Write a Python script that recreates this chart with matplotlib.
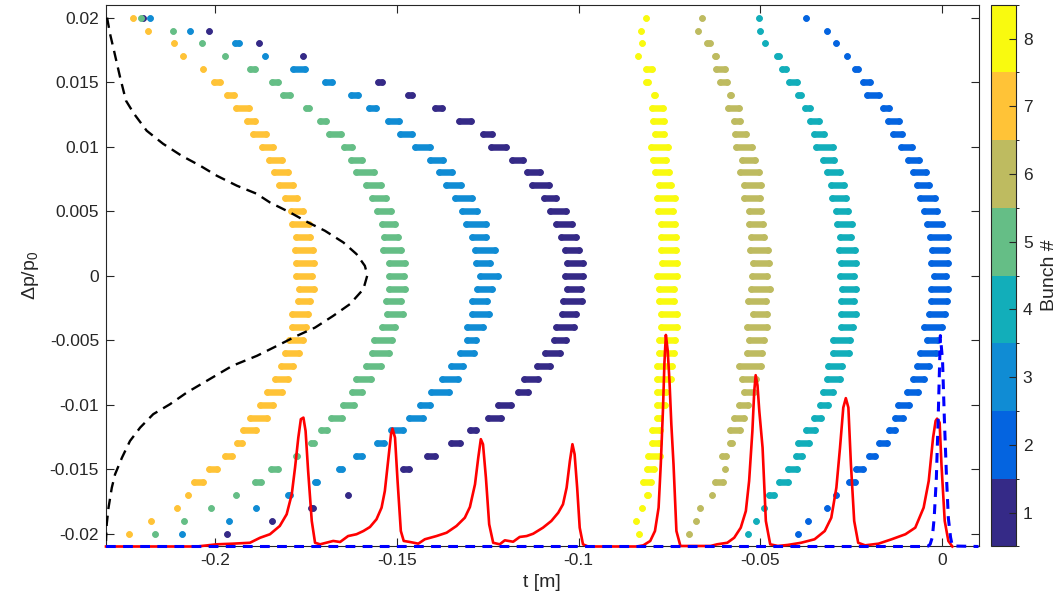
import numpy as np
import matplotlib
matplotlib.use("Agg")
import matplotlib.pyplot as plt
import matplotlib as mpl
from matplotlib.colors import ListedColormap, BoundaryNorm

plt.rcParams['font.family'] = ['Liberation Sans', 'DejaVu Sans']
plt.rcParams['mathtext.fontset'] = 'custom'
plt.rcParams['mathtext.rm'] = 'Liberation Sans'
plt.rcParams['mathtext.it'] = 'Liberation Sans:italic'

# ---------------- data ----------------
# momentum rows (dp/p0), top to bottom
dp_levels = [0.020, 0.019, 0.018, 0.017, 0.016, 0.015, 0.014, 0.013, 0.012, 0.011,
             0.010, 0.009, 0.008, 0.007, 0.006, 0.005, 0.004, 0.003, 0.002, 0.001,
             0.000,
             -0.001, -0.002, -0.003, -0.004, -0.005, -0.006, -0.007, -0.008, -0.009, -0.010,
             -0.011, -0.012, -0.013, -0.014, -0.015, -0.016, -0.017, -0.018, -0.019, -0.020]

bunch_ids = [1, 2, 3, 4, 5, 6, 7, 8]
bunch_colors = ['#352A87', '#0464E0', '#108CD4', '#12AEBA',
                '#65BE86', '#BEBB60', '#FFC337', '#F9FA0F']

# particle extent per row, t in mm (start, end); None end = single particle
b1_lo = [-219.7, -201.8, -188.0, -175.9, None, -156.0, -147.8, -140.4, -133.8, -127.2,
         -124.9, -119.3, -115.2, -113.7, -110.3, -108.8, -107.2, -105.8, -104.7, -104.0,
         -104.7,
         -104.1, -105.2, -105.5, -107.2, -107.8, -110.2, -112.4, -116.0, -117.7, -123.0,
         -125.8, -130.8, -136.0, -142.5, -149.3, None, -163.4, -174.4, -184.3, -196.7]
b1_hi = [None, None, None, None, None, -153.1, -144.8, -136.8, -128.8, -123.0,
         -119.1, -114.3, -109.8, -107.3, -105.2, -102.6, -101.0, -99.7, -98.9, -97.8,
         -97.8,
         -98.5, -98.1, -99.9, -100.4, -102.7, -104.2, -107.0, -110.2, -113.0, -117.7,
         -120.5, -127.2, -131.8, -138.6, -145.8, None, None, -172.1, None, None]

b2_lo = [-37.5, -31.6, -29.3, -27.0, -24.9, -22.6, -21.6, -17.1, -15.8, -14.3,
         -12.2, -10.4, -8.8, -7.7, -7.1, -6.0, -5.0, -4.3, -3.7, -4.0,
         -3.2,
         -4.0, -4.0, -4.6, -6.0, -5.0, -7.1, -7.8, -8.8, -10.6, -13.1,
         -14.0, -15.4, -18.2, -20.9, -24.7, -26.5, -29.1, -31.6, -36.9, -39.7]
b2_hi = [None, None, None, -25.3, -22.2, -18.9, -16.6, -13.7, -10.9, -10.1,
         -7.4, -5.6, -3.6, -2.6, -1.0, -0.4, 0.9, 2.6, 2.1, 2.4,
         2.0,
         2.4, 2.2, 1.7, 0.9, -0.2, -0.9, -2.6, -4.2, -5.7, -8.1,
         -9.9, -12.0, -14.3, -17.7, -20.8, -23.1, None, None, None, None]

b3_lo = [-217.9, -206.8, -195.3, -186.3, -179.4, -170.7, -163.4, -158.6, -153.3, -150.1,
         -145.9, -141.7, -139.3, -137.3, -134.9, -132.9, -131.8, -130.1, -129.4, -129.2,
         -128.1,
         -128.8, -130.1, -130.1, -131.5, -131.6, -133.6, -136.0, -138.4, -141.4, -144.6,
         -147.5, -152.6, -156.3, -162.0, -166.9, -173.3, -180.8, -188.8, -196.3, -209.2]
b3_hi = [None, None, -192.5, None, -174.4, -167.0, -159.9, -154.7, -148.5, -144.8,
         -140.0, -136.3, -133.8, -131.5, -128.5, -127.0, -124.6, -124.6, -122.1, -123.5,
         -121.2,
         -122.9, -124.2, -123.7, -125.3, -127.2, -128.0, -130.8, -132.2, -134.7, -140.0,
         -141.8, -147.5, -152.6, -158.6, -164.1, -171.1, -178.5, None, None, None]

b4_lo = [-50.4, -50.0, -48.6, -46.4, -45.0, -42.9, -40.6, -38.5, -37.2, -36.1,
         -35.7, -33.6, -32.5, -31.5, -31.2, -30.1, -29.8, -29.1, -29.4, -28.7,
         -29.1,
         -28.5, -28.8, -28.8, -28.8, -31.0, -30.8, -32.2, -32.7, -33.7, -34.4,
         -36.2, -38.3, -40.6, -41.1, -43.4, -45.7, -48.4, -49.1, -51.1, -53.3]
b4_hi = [None, None, None, -44.0, -42.0, -38.9, -37.8, -35.4, -33.1, -31.5,
         -29.1, -28.8, -27.3, -26.0, -25.6, -24.9, -23.8, -24.1, -23.1, -22.8,
         -23.4,
         -22.8, -23.4, -22.8, -23.6, -24.5, -24.7, -26.6, -27.2, -29.1, -30.6,
         -32.5, -34.2, -35.8, -37.7, -39.1, -41.6, -45.4, None, None, None]

b5_lo = [-220.3, -211.6, -203.5, -197.3, -191.3, -185.1, -182.1, -176.0, -172.0, -169.5,
         -165.5, -163.6, -162.0, -159.5, -157.8, -156.3, -155.0, -154.4, -154.7, -153.0,
         -153.0,
         -153.0, -153.9, -153.7, -155.0, -157.1, -157.8, -159.5, -162.0, -163.2, -165.6,
         -168.9, -171.8, -174.5, -178.6, -185.4, -189.9, -194.3, -201.2, -208.5, -216.4]
b5_hi = [None, None, None, None, -188.1, -181.9, -178.5, -173.3, -168.6, -164.5,
         -161.4, -158.6, -155.3, -153.5, -152.1, -150.6, -149.5, -148.7, -147.9, -146.8,
         -147.1,
         -146.8, -147.9, -147.5, -149.5, -150.3, -151.2, -153.4, -156.3, -158.8, -160.8,
         -164.1, -168.4, -171.9, -176.6, -181.9, -186.5, None, None, None, None]

b6_lo = [-66.1, -67.2, -65.5, -63.4, -63.2, -61.9, -59.3, -59.8, -58.1, -58.0,
         -57.5, -55.9, -56.6, -55.3, -55.3, -53.9, -53.9, -53.6, -53.8, -52.8,
         -53.2,
         -53.5, -54.3, -52.9, -54.6, -53.9, -54.6, -56.9, -56.0, -55.4, -56.8,
         -58.2, -59.3, -59.3, -61.4, -60.5, -63.4, -64.2, -66.7, -67.6, -69.7]
b6_hi = [None, None, -63.0, -61.3, -58.9, -58.2, -57.1, -55.0, -54.7, -53.0,
         -51.5, -50.6, -49.5, -49.0, -49.3, -48.9, -48.3, -48.0, -47.1, -46.8,
         -47.2,
         -46.5, -47.5, -47.3, -47.3, -48.0, -48.6, -49.0, -50.3, -50.8, -52.6,
         -53.7, -54.7, -56.8, -58.6, -59.1, -59.3, -62.3, None, None, None]

b7_lo = [-222.7, -218.5, -211.3, -208.8, -204.3, -201.1, -197.5, -195.1, -192.0, -190.4,
         -187.9, -186.1, -184.7, -183.4, -181.7, -180.0, -179.6, -178.6, -178.9, -178.5,
         -178.5,
         -177.8, -178.2, -179.6, -179.7, -180.6, -181.7, -182.8, -184.4, -186.5, -188.5,
         -191.3, -193.3, -194.9, -198.2, -202.5, -206.7, -207.4, -210.5, -217.5, -223.7]
b7_hi = [None, None, None, None, -202.5, -197.7, -194.0, -189.9, -188.1, -185.1,
         -183.3, -180.6, -179.1, -177.7, -176.6, -174.8, -173.3, -173.1, -172.1, -171.8,
         -172.4,
         -171.8, -173.1, -173.4, -174.1, -174.8, -175.9, -177.7, -179.1, -180.8, -183.3,
         -184.9, -187.8, -191.6, -194.5, -198.6, -202.3, None, None, None, None]

b8_lo = [-81.5, -82.9, -82.7, -83.7, -82.4, -82.4, -80.1, -80.6, -80.3, -79.9,
         -81.0, -80.5, -79.9, -78.7, -79.3, -79.1, -78.3, -78.3, -78.3, -78.0,
         -79.4,
         -78.7, -78.7, -78.3, -78.3, -78.7, -78.7, -79.4, -79.4, -79.2, -79.2,
         -79.4, -80.6, -80.6, -81.7, -82.2, -83.3, -82.2, -82.6, -84.2, -83.3]
b8_hi = [None, None, None, None, -79.0, -79.9, -78.0, -76.0, -75.6, -75.6,
         -74.5, -75.0, -74.2, -73.8, -72.5, -73.1, -72.7, -72.4, -72.3, -72.0,
         -72.0,
         -72.8, -72.8, -72.0, -72.0, -72.7, -73.0, -73.5, -73.8, -75.1, -75.3,
         -76.7, -76.7, -77.1, -76.7, -78.5, -79.2, -80.1, None, None, None]

bunch_lo = [b1_lo, b2_lo, b3_lo, b4_lo, b5_lo, b6_lo, b7_lo, b8_lo]
bunch_hi = [b1_hi, b2_hi, b3_hi, b4_hi, b5_hi, b6_hi, b7_hi, b8_hi]

# red: longitudinal current profile (t in mm, level in 1e-3 units of dp axis)
red_t = [-230.0, -205.0, -199.5, -195.1, -190.4, -187.6, -184.9, -182.2, -180.3, -178.9,
         -178.0, -177.1, -176.4, -175.7, -175.1, -174.4, -173.4, -172.5, -171.1, -167.5,
         -165.6, -163.4, -161.1, -159.2, -157.4, -155.6, -154.2, -153.3, -152.4, -151.6,
         -151.2, -150.5, -149.8, -148.9, -148.1, -146.4, -144.1, -142.3, -139.1, -136.3,
         -133.6, -131.3, -129.9, -128.5, -127.6, -126.9, -126.3, -125.5, -124.6, -123.5,
         -121.7, -120.3, -118.0, -116.2, -114.3, -112.5, -109.8, -107.5, -105.6, -104.3,
         -103.3, -102.4, -101.7, -101.1, -100.4, -99.7, -98.8, -97.4, -84.0, -82.2,
         -80.3, -79.0, -78.0, -77.4, -76.8, -76.4, -76.0, -75.5, -75.0, -74.5,
         -73.9, -73.1, -72.0, -63.7, -61.9, -59.1, -57.2, -55.4, -54.0, -53.1,
         -52.2, -51.7, -51.3, -50.8, -50.3, -49.4, -48.5, -47.3, -45.2, -42.5,
         -38.8, -35.1, -32.3, -30.5, -29.1, -28.1, -27.2, -26.5, -25.8, -25.1,
         -24.2, -23.1, -21.2, -17.5, -13.9, -10.1, -7.4, -5.1, -3.7, -2.5,
         -1.8, -1.4, -0.7, -0.2, 0.7, 1.7, 2.8]
red_y = [-21.0, -21.0, -20.83, -20.78, -20.71, -20.32, -20.05, -19.41, -18.50, -16.95,
         -14.89, -12.56, -11.13, -11.01, -12.04, -15.14, -19.02, -20.71, -20.83, -20.57,
         -20.65, -20.19, -20.05, -19.80, -19.49, -18.89, -17.99, -16.70, -14.37, -12.30,
         -11.86, -12.56, -15.92, -19.80, -20.57, -20.65, -20.78, -20.44, -20.19, -19.93,
         -19.41, -18.77, -17.94, -16.18, -14.11, -12.68, -13.07, -15.66, -19.28, -20.71,
         -20.83, -20.52, -20.63, -20.26, -20.19, -20.01, -19.54, -19.02, -18.38, -17.73,
         -16.44, -14.37, -13.07, -13.85, -16.44, -19.54, -20.83, -21.0, -21.0, -20.91,
         -20.57, -19.80, -17.99, -14.62, -10.4, -6.8, -4.6, -5.8, -8.2, -11.5,
         -14.6, -19.8, -20.96, -20.96, -20.83, -20.71, -20.32, -19.54, -18.25, -15.92,
         -12.04, -9.0, -7.72, -8.5, -10.5, -13.34, -19.02, -20.83, -20.96, -20.88,
         -20.71, -20.44, -19.80, -18.77, -16.44, -13.34, -10.23, -9.50, -10.23, -14.62,
         -19.02, -20.71, -20.91, -20.78, -20.44, -20.05, -19.54, -17.99, -15.92, -12.56,
         -11.26, -11.09, -11.40, -14.62, -19.02, -20.57, -21.0]

# black dashed: momentum distribution (t position in mm, dp in 1e-3)
mom_t = [-229.7, -228.9, -227.8, -226.1, -224.5, -222.3, -218.8, -214.3, -209.2, -204.1,
         -199.5, -194.0, -188.6, -184.9, -179.4, -174.4, -169.8, -164.7, -161.1, -158.8,
         -158.1, -159.2, -162.9, -167.5, -172.5, -177.5, -183.0, -188.5, -195.3, -202.3,
         -207.8, -212.4, -217.0, -220.6, -223.4, -225.6, -227.5, -228.4, -229.3, -229.8,
         -230.0]
mom_dp = [20.0, 18.76, 17.44, 15.35, 13.56, 12.55, 11.23, 10.22, 9.29, 8.52,
          7.74, 6.97, 6.35, 5.67, 4.90, 4.12, 3.48, 2.57, 1.67, 0.76,
          0.04, -1.05, -2.21, -3.12, -4.03, -4.67, -5.45, -6.22, -7.00, -8.16,
          -9.07, -9.97, -10.74, -11.78, -12.82, -14.11, -15.40, -16.44, -17.99, -19.28,
          -20.57]

# blue dashed: reference bunch profile (t in mm, level in 1e-3)
ref_t = [-230.0, -4.4, -3.8, -3.3, -2.7, -2.2, -1.6, -1.1, -0.5, 0.1, 0.6, 1.2, 1.7, 2.3, 2.8, 10.0]
ref_y = [-21.0, -21.0, -20.96, -20.82, -20.28, -18.79, -15.69, -11.08, -4.65, -6.57, -11.08, -15.69,
         -18.79, -20.28, -20.96, -21.0]

x_ticks = [-0.2, -0.15, -0.1, -0.05, 0]
x_tick_labels = ['-0.2', '-0.15', '-0.1', '-0.05', '0']
y_ticks = [0.02, 0.015, 0.01, 0.005, 0, -0.005, -0.01, -0.015, -0.02]
y_tick_labels = ['0.02', '0.015', '0.01', '0.005', '0', '-0.005', '-0.01', '-0.015', '-0.02']

# ---------------- figure ----------------
W, H, DPI = 10.62, 6.04, 100
fig = plt.figure(figsize=(W, H), dpi=DPI)
ax = fig.add_axes([0.0998, 0.0952, 0.8216, 0.897])
XL = (-0.23, 0.01)
YL = (-0.021, 0.021)
ax.set_xlim(*XL)
ax.set_ylim(*YL)

dot_pt = 4.7
px_per_t = ax.bbox.width / (XL[1] - XL[0])
r_t = (dot_pt / 72.0 * DPI / 2.0) / px_per_t

for lo_list, hi_list, col in zip(bunch_lo, bunch_hi, bunch_colors):
    for dp, a, b in zip(dp_levels, lo_list, hi_list):
        if a is None:
            continue
        a_m = a / 1000.0
        if b is None:
            s = e = a_m
        else:
            b_m = b / 1000.0
            s, e = a_m + r_t, b_m - r_t
            if s > e:
                s = e = 0.5 * (a_m + b_m)
        ax.plot([s, e], [dp, dp], color=col, lw=dot_pt, solid_capstyle='round',
                marker='o', ms=dot_pt, mew=0, mfc=col, zorder=2)

ax.plot(np.array(red_t) / 1000.0, np.array(red_y) / 1000.0, color=(1, 0, 0), lw=1.9,
        zorder=3, clip_on=False)
ax.plot(np.array(mom_t) / 1000.0, np.array(mom_dp) / 1000.0, color='k', lw=1.7,
        linestyle=(0, (4.4, 2.8)), zorder=4)
ax.plot(np.array(ref_t) / 1000.0, np.array(ref_y) / 1000.0, color=(0, 0, 1), lw=2.2,
        linestyle=(0, (3.2, 2.4)), zorder=5, clip_on=False)

frame_col = (0.15, 0.15, 0.15)
for sp in ax.spines.values():
    sp.set_color(frame_col)
    sp.set_linewidth(0.8)
    sp.set_zorder(1)
ax.set_xticks(x_ticks, labels=x_tick_labels)
ax.set_yticks(y_ticks, labels=y_tick_labels)
ax.tick_params(direction='in', top=True, right=True, length=6, width=0.8,
               color=frame_col, labelcolor=frame_col, labelsize=12.5, pad=5)
ax.set_xlabel('t [m]', fontsize=14, color=frame_col, labelpad=4)
ax.set_ylabel(r'$\mathrm{\Delta p/p_0}$', fontsize=14, color=frame_col, labelpad=6)

cax = fig.add_axes([0.9331, 0.0952, 0.0235, 0.897])
cmap = ListedColormap(bunch_colors)
edges = [bunch_ids[0] - 0.5] + [i + 0.5 for i in bunch_ids]
norm = BoundaryNorm(edges, len(bunch_ids))
cb = fig.colorbar(mpl.cm.ScalarMappable(norm=norm, cmap=cmap), cax=cax, ticks=bunch_ids)
cb.outline.set_edgecolor(frame_col)
cb.outline.set_linewidth(0.8)
cb.ax.tick_params(direction='in', length=5, width=0.8, color=frame_col,
                  labelcolor=frame_col, labelsize=12.5, pad=5)
cb.set_label('Bunch #', fontsize=14, color=frame_col, labelpad=6)

fig.savefig('out.png', dpi=DPI)
